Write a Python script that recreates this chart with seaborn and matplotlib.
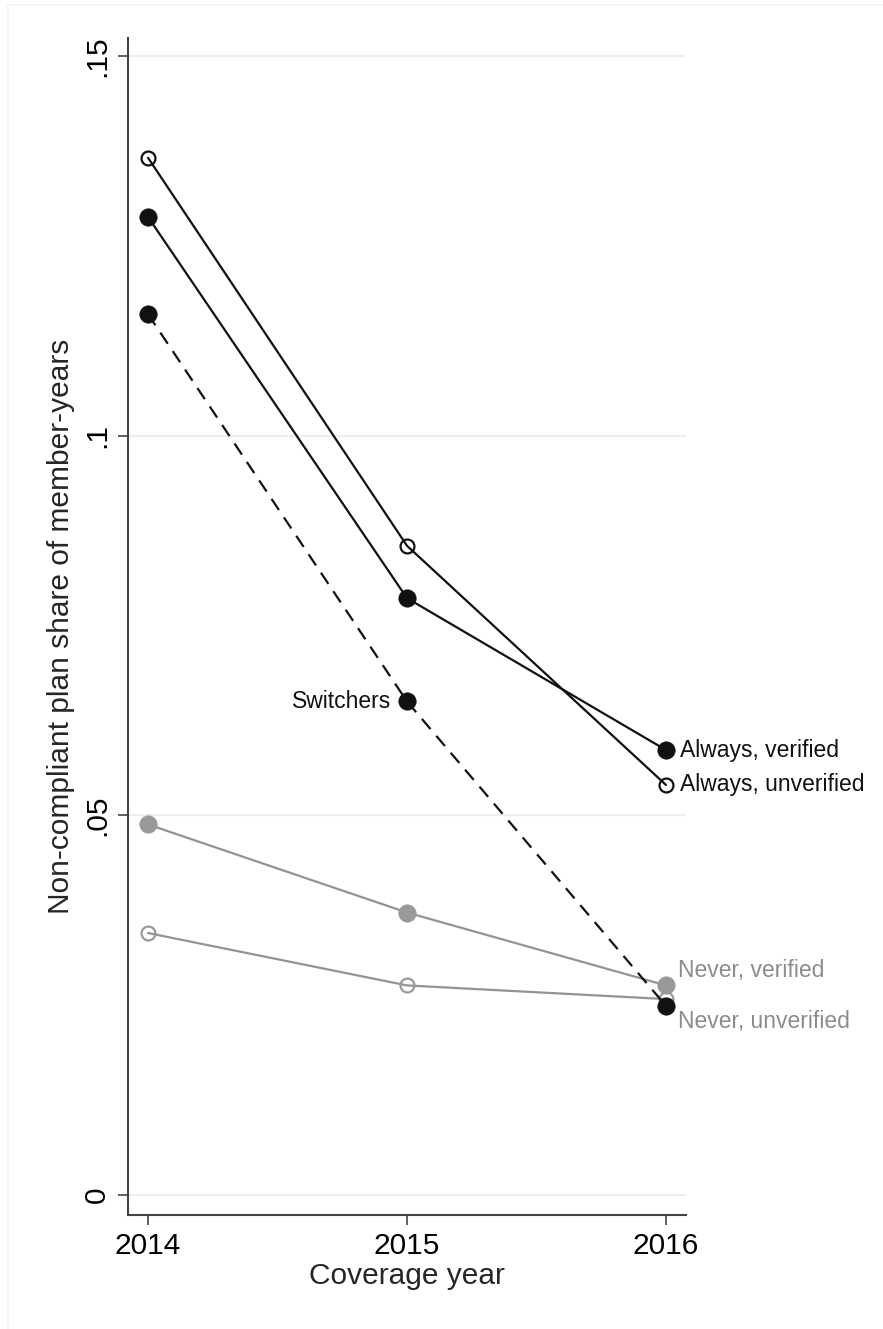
import numpy as np
import pandas as pd
import seaborn as sns
import matplotlib.pyplot as plt
from matplotlib.lines import Line2D

# values
years = [2014, 2015, 2016]
always_verified = [0.1288, 0.0786, 0.0586]
always_unverified = [0.1366, 0.0855, 0.0540]
switchers = [0.1160, 0.0650, 0.0249]
never_verified = [0.0488, 0.0372, 0.0276]
never_unverified = [0.0345, 0.0276, 0.0258]

ytick_vals = [0, 0.05, 0.1, 0.15]
ytick_labels = ["0", ".05", ".1", ".15"]

sns.set_theme(style="white")
plt.rcParams['font.family'] = ['Liberation Sans', 'DejaVu Sans']

fig = plt.figure(figsize=(8.83, 13.29), dpi=100)
ax = fig.add_axes([128/883, 1-1215/1329, (686-128)/883, (1215-38)/1329])

# faint outer frame (only top and left show in the reference)
fx, fy = 8/883, 1-5/1329
fig.lines.append(Line2D([fx, 1], [fy, fy], transform=fig.transFigure, color="#f2f2f2", lw=1.2))
fig.lines.append(Line2D([fx, fx], [0, fy], transform=fig.transFigure, color="#f2f2f2", lw=1.2))

grid_col = "#e8f0f1"
for v in ytick_vals:
    ax.axhline(v, color=grid_col, lw=1.6, zorder=0)

black = "#111111"
gray = "#999999"
gline = "#939393"

def draw(vals, col, lcol, hollow=False, ls="-"):
    df = pd.DataFrame({"year": years, "share": vals})
    sns.lineplot(data=df, x="year", y="share", ax=ax, color=lcol, lw=1.6,
                 marker="o", markersize=10 if hollow else 12.5,
                 markerfacecolor="none" if hollow else col,
                 markeredgecolor=col, markeredgewidth=1.6 if hollow else 0.5,
                 linestyle=ls)

draw(never_unverified, gray, gline, hollow=True)
draw(never_verified, gray, gline)
draw(switchers, black, black, ls=(0, (6, 4)))
draw(always_unverified, black, black, hollow=True)
draw(always_verified, black, black)

fs_lab = 16.5
ax.annotate("Always, verified", (years[2], always_verified[2]), xytext=(10, 0),
            textcoords="offset points", va="center", ha="left", fontsize=fs_lab, color=black)
ax.annotate("Always, unverified", (years[2], always_unverified[2]), xytext=(10, 0),
            textcoords="offset points", va="center", ha="left", fontsize=fs_lab, color=black)
ax.annotate("Never, verified", (years[2], never_verified[2]), xytext=(9, 11),
            textcoords="offset points", va="center", ha="left", fontsize=fs_lab, color="#8c8c8c")
ax.annotate("Never, unverified", (years[2], never_unverified[2]), xytext=(9, -16),
            textcoords="offset points", va="center", ha="left", fontsize=fs_lab, color="#8c8c8c")
ax.annotate("Switchers", (years[1], switchers[1]), xytext=(-11, 0),
            textcoords="offset points", va="center", ha="right", fontsize=fs_lab, color=black)

ax.set_xlim(2014 - 20/259, 2016 + 20/259)
ax.set_ylim(-20/7593, 0.15 + 18/7593)
ax.set_xticks(years)
ax.set_xticklabels([str(y) for y in years], fontsize=21.5)
ax.set_yticks(ytick_vals)
ax.set_yticklabels(ytick_labels, fontsize=21.5, rotation=90, va="center")
ax.set_xlabel("Coverage year", fontsize=21.5, labelpad=2)
ax.set_ylabel("Non-compliant plan share of member-years", fontsize=21.5, labelpad=6)

sns.despine(ax=ax)
for s in ["left", "bottom"]:
    ax.spines[s].set_color("#444444")
    ax.spines[s].set_linewidth(1.5)
ax.tick_params(axis="both", which="major", length=7, width=1.2, color="#444444",
               left=True, bottom=True, pad=5, labelcolor="black")
ax.set_facecolor("white")

fig.savefig("out.png", dpi=100, facecolor="white")
